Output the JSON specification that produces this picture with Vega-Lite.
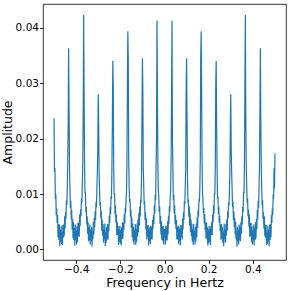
{
"$schema":"https://vega.github.io/schema/vega-lite/v6.json",
"width":243,"height":256,
"autosize":{"type":"none"},
"padding":{"left":43,"top":4,"right":5,"bottom":31},
"background":"white",
"config":{"view":{"stroke":"#000","strokeWidth":0.8},
"axis":{"labelFont":"DejaVu Sans","labelFontSize":10.5,"titleFont":"DejaVu Sans","titleFontSize":12.5,"titleFontWeight":"normal","labelColor":"#000","titleColor":"#000","tickColor":"#000","tickSize":3.5,"tickWidth":0.8,"grid":false,"domain":false}},
"data":{"values":[
{"f":-0.5,"a":0.0237},{"f":-0.498,"a":0.0140},{"f":-0.496,"a":0.0147},{"f":-0.494,"a":0.0091},{"f":-0.492,"a":0.0100},{"f":-0.49,"a":0.0062},{"f":-0.488,"a":0.0074},{"f":-0.486,"a":0.0048},{"f":-0.484,"a":0.0062},{"f":-0.482,"a":0.0022},{"f":-0.48,"a":0.0046},{"f":-0.478,"a":0.0017},{"f":-0.476,"a":0.0045},{"f":-0.474,"a":0.0006},{"f":-0.472,"a":0.0035},{"f":-0.47,"a":0.0014},{"f":-0.468,"a":0.0043},{"f":-0.466,"a":0.0010},{"f":-0.464,"a":0.0032},{"f":-0.462,"a":0.0008},{"f":-0.46,"a":0.0044},{"f":-0.458,"a":0.0021},{"f":-0.456,"a":0.0045},{"f":-0.454,"a":0.0024},{"f":-0.452,"a":0.0060},{"f":-0.45,"a":0.0038},{"f":-0.448,"a":0.0067},{"f":-0.446,"a":0.0055},{"f":-0.444,"a":0.0089},{"f":-0.442,"a":0.0080},{"f":-0.44,"a":0.0114},{"f":-0.438,"a":0.0155},{"f":-0.436,"a":0.0225},{"f":-0.434,"a":0.0363},
{"f":-0.432,"a":0.0250},{"f":-0.43,"a":0.0145},{"f":-0.428,"a":0.0113},{"f":-0.426,"a":0.0075},{"f":-0.424,"a":0.0088},{"f":-0.422,"a":0.0054},{"f":-0.42,"a":0.0071},{"f":-0.418,"a":0.0036},{"f":-0.416,"a":0.0055},{"f":-0.414,"a":0.0020},{"f":-0.412,"a":0.0049},{"f":-0.41,"a":0.0017},{"f":-0.408,"a":0.0039},{"f":-0.406,"a":0.0007},{"f":-0.404,"a":0.0045},{"f":-0.402,"a":0.0017},{"f":-0.4,"a":0.0034},{"f":-0.398,"a":0.0009},{"f":-0.396,"a":0.0042},{"f":-0.394,"a":0.0013},{"f":-0.392,"a":0.0048},{"f":-0.39,"a":0.0024},{"f":-0.388,"a":0.0048},{"f":-0.386,"a":0.0023},{"f":-0.384,"a":0.0063},{"f":-0.382,"a":0.0042},{"f":-0.38,"a":0.0072},{"f":-0.378,"a":0.0060},{"f":-0.376,"a":0.0092},{"f":-0.374,"a":0.0084},{"f":-0.372,"a":0.0117},{"f":-0.37,"a":0.0153},{"f":-0.368,"a":0.0240},{"f":-0.366,"a":0.0423},
{"f":-0.364,"a":0.0290},{"f":-0.362,"a":0.0158},{"f":-0.36,"a":0.0102},{"f":-0.358,"a":0.0104},{"f":-0.356,"a":0.0067},{"f":-0.354,"a":0.0077},{"f":-0.352,"a":0.0045},{"f":-0.35,"a":0.0060},{"f":-0.348,"a":0.0029},{"f":-0.346,"a":0.0049},{"f":-0.344,"a":0.0015},{"f":-0.342,"a":0.0040},{"f":-0.34,"a":0.0017},{"f":-0.338,"a":0.0045},{"f":-0.336,"a":0.0009},{"f":-0.334,"a":0.0036},{"f":-0.332,"a":0.0015},{"f":-0.33,"a":0.0041},{"f":-0.328,"a":0.0005},{"f":-0.326,"a":0.0033},{"f":-0.324,"a":0.0018},{"f":-0.322,"a":0.0050},{"f":-0.32,"a":0.0027},{"f":-0.318,"a":0.0057},{"f":-0.316,"a":0.0040},{"f":-0.314,"a":0.0069},{"f":-0.312,"a":0.0053},{"f":-0.31,"a":0.0086},{"f":-0.308,"a":0.0076},{"f":-0.306,"a":0.0110},{"f":-0.304,"a":0.0140},{"f":-0.302,"a":0.0180},{"f":-0.3,"a":0.0280},
{"f":-0.298,"a":0.0225},{"f":-0.296,"a":0.0140},{"f":-0.294,"a":0.0108},{"f":-0.292,"a":0.0079},{"f":-0.29,"a":0.0085},{"f":-0.288,"a":0.0056},{"f":-0.286,"a":0.0069},{"f":-0.284,"a":0.0034},{"f":-0.282,"a":0.0054},{"f":-0.28,"a":0.0025},{"f":-0.278,"a":0.0046},{"f":-0.276,"a":0.0012},{"f":-0.274,"a":0.0036},{"f":-0.272,"a":0.0018},{"f":-0.27,"a":0.0047},{"f":-0.268,"a":0.0006},{"f":-0.266,"a":0.0031},{"f":-0.264,"a":0.0012},{"f":-0.262,"a":0.0040},{"f":-0.26,"a":0.0020},{"f":-0.258,"a":0.0046},{"f":-0.256,"a":0.0017},{"f":-0.254,"a":0.0045},{"f":-0.252,"a":0.0033},{"f":-0.25,"a":0.0061},{"f":-0.248,"a":0.0048},{"f":-0.246,"a":0.0076},{"f":-0.244,"a":0.0064},{"f":-0.242,"a":0.0096},{"f":-0.24,"a":0.0091},{"f":-0.238,"a":0.0149},{"f":-0.236,"a":0.0225},{"f":-0.234,"a":0.0340},
{"f":-0.232,"a":0.0295},{"f":-0.23,"a":0.0151},{"f":-0.228,"a":0.0099},{"f":-0.226,"a":0.0102},{"f":-0.224,"a":0.0064},{"f":-0.222,"a":0.0080},{"f":-0.22,"a":0.0049},{"f":-0.218,"a":0.0063},{"f":-0.216,"a":0.0026},{"f":-0.214,"a":0.0050},{"f":-0.212,"a":0.0026},{"f":-0.21,"a":0.0043},{"f":-0.208,"a":0.0008},{"f":-0.206,"a":0.0037},{"f":-0.204,"a":0.0014},{"f":-0.202,"a":0.0043},{"f":-0.2,"a":0.0011},{"f":-0.198,"a":0.0035},{"f":-0.196,"a":0.0007},{"f":-0.194,"a":0.0040},{"f":-0.192,"a":0.0019},{"f":-0.19,"a":0.0049},{"f":-0.188,"a":0.0020},{"f":-0.186,"a":0.0048},{"f":-0.184,"a":0.0035},{"f":-0.182,"a":0.0064},{"f":-0.18,"a":0.0047},{"f":-0.178,"a":0.0075},{"f":-0.176,"a":0.0066},{"f":-0.174,"a":0.0092},{"f":-0.172,"a":0.0102},{"f":-0.17,"a":0.0161},{"f":-0.168,"a":0.0290},{"f":-0.166,"a":0.0394},
{"f":-0.164,"a":0.0345},{"f":-0.162,"a":0.0165},{"f":-0.16,"a":0.0111},{"f":-0.158,"a":0.0086},{"f":-0.156,"a":0.0091},{"f":-0.154,"a":0.0059},{"f":-0.152,"a":0.0071},{"f":-0.15,"a":0.0039},{"f":-0.148,"a":0.0058},{"f":-0.146,"a":0.0022},{"f":-0.144,"a":0.0047},{"f":-0.142,"a":0.0015},{"f":-0.14,"a":0.0040},{"f":-0.138,"a":0.0009},{"f":-0.136,"a":0.0034},{"f":-0.134,"a":0.0017},{"f":-0.132,"a":0.0046},{"f":-0.13,"a":0.0008},{"f":-0.128,"a":0.0037},{"f":-0.126,"a":0.0014},{"f":-0.124,"a":0.0047},{"f":-0.122,"a":0.0024},{"f":-0.12,"a":0.0054},{"f":-0.118,"a":0.0031},{"f":-0.116,"a":0.0066},{"f":-0.114,"a":0.0043},{"f":-0.112,"a":0.0078},{"f":-0.11,"a":0.0059},{"f":-0.108,"a":0.0090},{"f":-0.106,"a":0.0085},{"f":-0.104,"a":0.0132},{"f":-0.102,"a":0.0235},{"f":-0.1,"a":0.0345},
{"f":-0.098,"a":0.0290},{"f":-0.096,"a":0.0146},{"f":-0.094,"a":0.0115},{"f":-0.092,"a":0.0081},{"f":-0.09,"a":0.0087},{"f":-0.088,"a":0.0053},{"f":-0.086,"a":0.0067},{"f":-0.084,"a":0.0036},{"f":-0.082,"a":0.0056},{"f":-0.08,"a":0.0018},{"f":-0.078,"a":0.0043},{"f":-0.076,"a":0.0023},{"f":-0.074,"a":0.0044},{"f":-0.072,"a":0.0007},{"f":-0.07,"a":0.0036},{"f":-0.068,"a":0.0015},{"f":-0.066,"a":0.0041},{"f":-0.064,"a":0.0010},{"f":-0.062,"a":0.0043},{"f":-0.06,"a":0.0018},{"f":-0.058,"a":0.0040},{"f":-0.056,"a":0.0018},{"f":-0.054,"a":0.0053},{"f":-0.052,"a":0.0037},{"f":-0.05,"a":0.0062},{"f":-0.048,"a":0.0046},{"f":-0.046,"a":0.0080},{"f":-0.044,"a":0.0065},{"f":-0.042,"a":0.0099},{"f":-0.04,"a":0.0089},{"f":-0.038,"a":0.0154},{"f":-0.036,"a":0.0200},{"f":-0.034,"a":0.0413},
{"f":-0.032,"a":0.0278},{"f":-0.03,"a":0.0160},{"f":-0.028,"a":0.0107},{"f":-0.026,"a":0.0097},{"f":-0.024,"a":0.0068},{"f":-0.022,"a":0.0078},{"f":-0.02,"a":0.0046},{"f":-0.018,"a":0.0061},{"f":-0.016,"a":0.0027},{"f":-0.014,"a":0.0051},{"f":-0.012,"a":0.0016},{"f":-0.01,"a":0.0042},{"f":-0.008,"a":0.0016},{"f":-0.006,"a":0.0043},{"f":-0.004,"a":0.0009},{"f":-0.002,"a":0.0037},{"f":0.0,"a":0.0021},
{"f":0.002,"a":0.0037},{"f":0.004,"a":0.0009},{"f":0.006,"a":0.0043},{"f":0.008,"a":0.0016},{"f":0.01,"a":0.0042},{"f":0.012,"a":0.0016},{"f":0.014,"a":0.0051},{"f":0.016,"a":0.0027},{"f":0.018,"a":0.0061},{"f":0.02,"a":0.0046},{"f":0.022,"a":0.0078},{"f":0.024,"a":0.0068},{"f":0.026,"a":0.0097},{"f":0.028,"a":0.0107},{"f":0.03,"a":0.0160},{"f":0.032,"a":0.0278},{"f":0.034,"a":0.0413},
{"f":0.036,"a":0.0200},{"f":0.038,"a":0.0154},{"f":0.04,"a":0.0089},{"f":0.042,"a":0.0099},{"f":0.044,"a":0.0065},{"f":0.046,"a":0.0080},{"f":0.048,"a":0.0046},{"f":0.05,"a":0.0062},{"f":0.052,"a":0.0037},{"f":0.054,"a":0.0053},{"f":0.056,"a":0.0018},{"f":0.058,"a":0.0040},{"f":0.06,"a":0.0018},{"f":0.062,"a":0.0043},{"f":0.064,"a":0.0010},{"f":0.066,"a":0.0041},{"f":0.068,"a":0.0015},{"f":0.07,"a":0.0036},{"f":0.072,"a":0.0007},{"f":0.074,"a":0.0044},{"f":0.076,"a":0.0023},{"f":0.078,"a":0.0043},{"f":0.08,"a":0.0018},{"f":0.082,"a":0.0056},{"f":0.084,"a":0.0036},{"f":0.086,"a":0.0067},{"f":0.088,"a":0.0053},{"f":0.09,"a":0.0087},{"f":0.092,"a":0.0081},{"f":0.094,"a":0.0115},{"f":0.096,"a":0.0146},{"f":0.098,"a":0.0290},{"f":0.1,"a":0.0345},
{"f":0.102,"a":0.0235},{"f":0.104,"a":0.0132},{"f":0.106,"a":0.0085},{"f":0.108,"a":0.0090},{"f":0.11,"a":0.0059},{"f":0.112,"a":0.0078},{"f":0.114,"a":0.0043},{"f":0.116,"a":0.0066},{"f":0.118,"a":0.0031},{"f":0.12,"a":0.0054},{"f":0.122,"a":0.0024},{"f":0.124,"a":0.0047},{"f":0.126,"a":0.0014},{"f":0.128,"a":0.0037},{"f":0.13,"a":0.0008},{"f":0.132,"a":0.0046},{"f":0.134,"a":0.0017},{"f":0.136,"a":0.0034},{"f":0.138,"a":0.0009},{"f":0.14,"a":0.0040},{"f":0.142,"a":0.0015},{"f":0.144,"a":0.0047},{"f":0.146,"a":0.0022},{"f":0.148,"a":0.0058},{"f":0.15,"a":0.0039},{"f":0.152,"a":0.0071},{"f":0.154,"a":0.0059},{"f":0.156,"a":0.0091},{"f":0.158,"a":0.0086},{"f":0.16,"a":0.0111},{"f":0.162,"a":0.0165},{"f":0.164,"a":0.0345},{"f":0.166,"a":0.0394},
{"f":0.168,"a":0.0290},{"f":0.17,"a":0.0161},{"f":0.172,"a":0.0102},{"f":0.174,"a":0.0092},{"f":0.176,"a":0.0066},{"f":0.178,"a":0.0075},{"f":0.18,"a":0.0047},{"f":0.182,"a":0.0064},{"f":0.184,"a":0.0035},{"f":0.186,"a":0.0048},{"f":0.188,"a":0.0020},{"f":0.19,"a":0.0049},{"f":0.192,"a":0.0019},{"f":0.194,"a":0.0040},{"f":0.196,"a":0.0007},{"f":0.198,"a":0.0035},{"f":0.2,"a":0.0011},{"f":0.202,"a":0.0043},{"f":0.204,"a":0.0014},{"f":0.206,"a":0.0037},{"f":0.208,"a":0.0008},{"f":0.21,"a":0.0043},{"f":0.212,"a":0.0026},{"f":0.214,"a":0.0050},{"f":0.216,"a":0.0026},{"f":0.218,"a":0.0063},{"f":0.22,"a":0.0049},{"f":0.222,"a":0.0080},{"f":0.224,"a":0.0064},{"f":0.226,"a":0.0102},{"f":0.228,"a":0.0099},{"f":0.23,"a":0.0151},{"f":0.232,"a":0.0295},{"f":0.234,"a":0.0340},
{"f":0.236,"a":0.0225},{"f":0.238,"a":0.0149},{"f":0.24,"a":0.0091},{"f":0.242,"a":0.0096},{"f":0.244,"a":0.0064},{"f":0.246,"a":0.0076},{"f":0.248,"a":0.0048},{"f":0.25,"a":0.0061},{"f":0.252,"a":0.0033},{"f":0.254,"a":0.0045},{"f":0.256,"a":0.0017},{"f":0.258,"a":0.0046},{"f":0.26,"a":0.0020},{"f":0.262,"a":0.0040},{"f":0.264,"a":0.0012},{"f":0.266,"a":0.0031},{"f":0.268,"a":0.0006},{"f":0.27,"a":0.0047},{"f":0.272,"a":0.0018},{"f":0.274,"a":0.0036},{"f":0.276,"a":0.0012},{"f":0.278,"a":0.0046},{"f":0.28,"a":0.0025},{"f":0.282,"a":0.0054},{"f":0.284,"a":0.0034},{"f":0.286,"a":0.0069},{"f":0.288,"a":0.0056},{"f":0.29,"a":0.0085},{"f":0.292,"a":0.0079},{"f":0.294,"a":0.0108},{"f":0.296,"a":0.0140},{"f":0.298,"a":0.0225},{"f":0.3,"a":0.0280},
{"f":0.302,"a":0.0180},{"f":0.304,"a":0.0140},{"f":0.306,"a":0.0110},{"f":0.308,"a":0.0076},{"f":0.31,"a":0.0086},{"f":0.312,"a":0.0053},{"f":0.314,"a":0.0069},{"f":0.316,"a":0.0040},{"f":0.318,"a":0.0057},{"f":0.32,"a":0.0027},{"f":0.322,"a":0.0050},{"f":0.324,"a":0.0018},{"f":0.326,"a":0.0033},{"f":0.328,"a":0.0005},{"f":0.33,"a":0.0041},{"f":0.332,"a":0.0015},{"f":0.334,"a":0.0036},{"f":0.336,"a":0.0009},{"f":0.338,"a":0.0045},{"f":0.34,"a":0.0017},{"f":0.342,"a":0.0040},{"f":0.344,"a":0.0015},{"f":0.346,"a":0.0049},{"f":0.348,"a":0.0029},{"f":0.35,"a":0.0060},{"f":0.352,"a":0.0045},{"f":0.354,"a":0.0077},{"f":0.356,"a":0.0067},{"f":0.358,"a":0.0104},{"f":0.36,"a":0.0102},{"f":0.362,"a":0.0158},{"f":0.364,"a":0.0290},{"f":0.366,"a":0.0423},
{"f":0.368,"a":0.0240},{"f":0.37,"a":0.0153},{"f":0.372,"a":0.0117},{"f":0.374,"a":0.0084},{"f":0.376,"a":0.0092},{"f":0.378,"a":0.0060},{"f":0.38,"a":0.0072},{"f":0.382,"a":0.0042},{"f":0.384,"a":0.0063},{"f":0.386,"a":0.0023},{"f":0.388,"a":0.0048},{"f":0.39,"a":0.0024},{"f":0.392,"a":0.0048},{"f":0.394,"a":0.0013},{"f":0.396,"a":0.0042},{"f":0.398,"a":0.0009},{"f":0.4,"a":0.0034},{"f":0.402,"a":0.0017},{"f":0.404,"a":0.0045},{"f":0.406,"a":0.0007},{"f":0.408,"a":0.0039},{"f":0.41,"a":0.0017},{"f":0.412,"a":0.0049},{"f":0.414,"a":0.0020},{"f":0.416,"a":0.0055},{"f":0.418,"a":0.0036},{"f":0.42,"a":0.0071},{"f":0.422,"a":0.0054},{"f":0.424,"a":0.0088},{"f":0.426,"a":0.0075},{"f":0.428,"a":0.0113},{"f":0.43,"a":0.0145},{"f":0.432,"a":0.0250},{"f":0.434,"a":0.0363},
{"f":0.436,"a":0.0225},{"f":0.438,"a":0.0155},{"f":0.44,"a":0.0114},{"f":0.442,"a":0.0080},{"f":0.444,"a":0.0089},{"f":0.446,"a":0.0055},{"f":0.448,"a":0.0067},{"f":0.45,"a":0.0038},{"f":0.452,"a":0.0060},{"f":0.454,"a":0.0024},{"f":0.456,"a":0.0045},{"f":0.458,"a":0.0021},{"f":0.46,"a":0.0044},{"f":0.462,"a":0.0008},{"f":0.464,"a":0.0032},{"f":0.466,"a":0.0010},{"f":0.468,"a":0.0043},{"f":0.47,"a":0.0014},{"f":0.472,"a":0.0035},{"f":0.474,"a":0.0006},{"f":0.476,"a":0.0045},{"f":0.478,"a":0.0017},{"f":0.48,"a":0.0046},{"f":0.482,"a":0.0022},{"f":0.484,"a":0.0062},{"f":0.486,"a":0.0048},{"f":0.488,"a":0.0074},{"f":0.49,"a":0.0062},{"f":0.492,"a":0.0100},{"f":0.494,"a":0.0091},{"f":0.496,"a":0.0147},{"f":0.498,"a":0.0110},{"f":0.5,"a":0.0173}
]},
"mark":{"type":"line","color":"#1f77b4","strokeWidth":1.2,"clip":true},
"encoding":{
"x":{"field":"f","type":"quantitative","title":"Frequency in Hertz","scale":{"domain":[-0.55,0.55],"nice":false,"zero":false},"axis":{"values":[-0.4,-0.2,0,0.2,0.4],"format":".1f","labelPadding":1,"titlePadding":1}},
"y":{"field":"a","type":"quantitative","title":"Amplitude","scale":{"domain":[-0.0019,0.0443],"nice":false,"zero":false},"axis":{"values":[0,0.01,0.02,0.03,0.04],"format":".2f","labelPadding":1,"titlePadding":1}}
}
}
